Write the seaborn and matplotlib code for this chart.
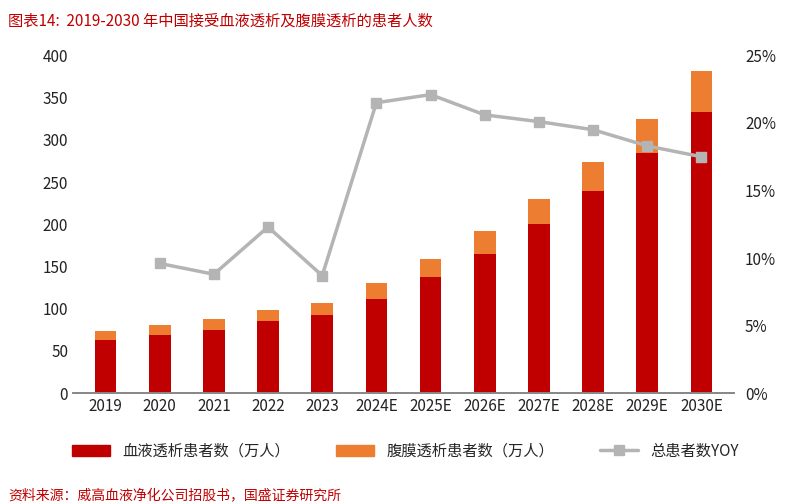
import matplotlib
matplotlib.use("Agg")
import matplotlib.pyplot as plt
import seaborn as sns
import pandas as pd
from matplotlib.ticker import FuncFormatter
from matplotlib.patches import Patch
from matplotlib.lines import Line2D

sns.set_theme(style="white")
plt.rcParams['font.family'] = ['Noto Sans CJK SC', 'DejaVu Sans']

years = ["2019","2020","2021","2022","2023","2024E","2025E","2026E","2027E","2028E","2029E","2030E"]
hemo = [63, 69, 75, 85, 92, 112, 137, 165, 200, 240, 284, 333]
peri = [11, 12, 13, 14, 15, 18, 22, 27, 30, 34, 41, 48]
yoy = [None, 9.6, 8.8, 12.3, 8.7, 21.5, 22.1, 20.6, 20.1, 19.5, 18.3, 17.5]

df = pd.DataFrame({"year": years, "hemo": hemo, "peri": peri,
                   "total": [a + b for a, b in zip(hemo, peri)], "yoy": yoy})

fig = plt.figure(figsize=(8.11, 5.04), dpi=100)
ax = fig.add_axes([0.09, 0.22, 0.815, 0.67])
sns.barplot(data=df, x="year", y="total", color="#ED7D31", width=0.4, ax=ax, saturation=1, linewidth=0)
sns.barplot(data=df, x="year", y="hemo", color="#C00000", width=0.4, ax=ax, saturation=1, linewidth=0)
ax.set_ylim(0, 400)
ax.set_yticks(range(0, 401, 50))
ax.set_xlabel(""); ax.set_ylabel("")
ax.tick_params(axis="both", labelsize=11, colors="#222222", length=0)
ax2 = ax.twinx()
ax2.plot(range(len(years)), [v if v is not None else float('nan') for v in yoy],
         color="#B4B4B4", lw=2.5, marker="s", ms=7)
ax2.set_ylim(0, 25)
ax2.set_yticks(range(0, 26, 5))
ax2.yaxis.set_major_formatter(FuncFormatter(lambda v, p: f"{int(v)}%"))
ax2.tick_params(axis="y", labelsize=11, colors="#222222", length=0, pad=8)
for a in (ax, ax2):
    for s in ["top", "left", "right"]:
        a.spines[s].set_visible(False)
    a.spines["bottom"].set_color("#888888")
ax.set_xlim(-0.6, 11.6)

handles = [Patch(color="#C00000"), Patch(color="#ED7D31"),
           Line2D([], [], color="#B4B4B4", lw=2.5, marker="s", ms=7)]
labels = ["血液透析患者数（万人）", "腹膜透析患者数（万人）", "总患者数YOY"]
fig.legend(handles, labels, loc="center", bbox_to_anchor=(0.5, 0.105), ncol=3,
           frameon=False, fontsize=11, handlelength=2.5, columnspacing=3)

fig.text(0.01, 0.975, "图表14:  2019-2030 年中国接受血液透析及腹膜透析的患者人数",
         color="#C00000", fontsize=11, style="italic", va="top")
fig.text(0.01, 0.03, "资料来源：威高血液净化公司招股书，国盛证券研究所",
         color="#C00000", fontsize=10, style="italic", va="top")
fig.savefig("out.png", dpi=100)
